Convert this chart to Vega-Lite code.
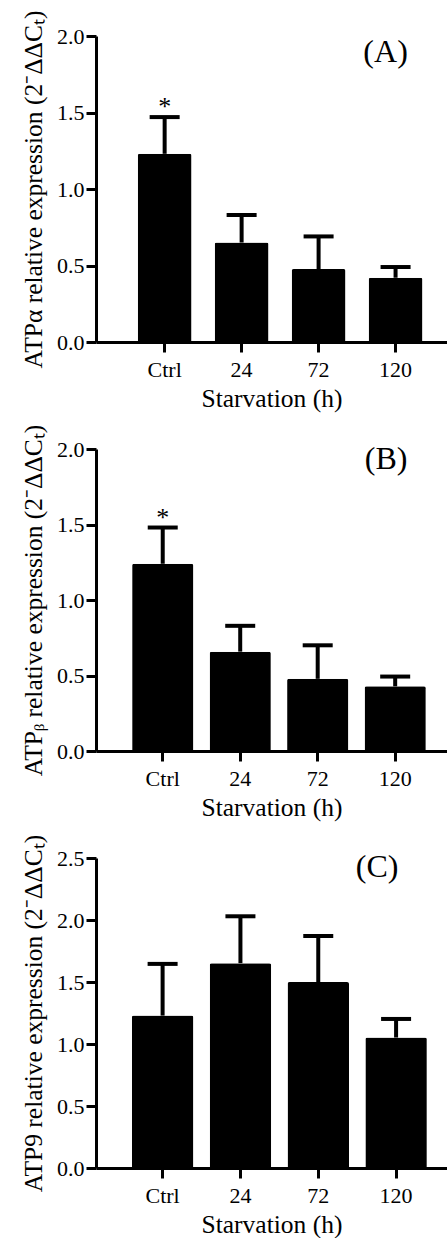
{
  "$schema": "https://vega.github.io/schema/vega-lite/v6.json",
  "padding": {"left": 21, "top": 10, "right": 0, "bottom": 0},
  "background": "white",
  "spacing": 107,
  "bounds": "flush",
  "datasets": {
    "expr": [
      {"panel": "A", "time": "Ctrl", "mean": 1.23, "upper": 1.47, "sig": "*"},
      {"panel": "A", "time": "24", "mean": 0.65, "upper": 0.83},
      {"panel": "A", "time": "72", "mean": 0.477, "upper": 0.69},
      {"panel": "A", "time": "120", "mean": 0.42, "upper": 0.49},
      {"panel": "B", "time": "Ctrl", "mean": 1.24, "upper": 1.48, "sig": "*"},
      {"panel": "B", "time": "24", "mean": 0.658, "upper": 0.829},
      {"panel": "B", "time": "72", "mean": 0.478, "upper": 0.7},
      {"panel": "B", "time": "120", "mean": 0.428, "upper": 0.493},
      {"panel": "C", "time": "Ctrl", "mean": 1.229, "upper": 1.646},
      {"panel": "C", "time": "24", "mean": 1.652, "upper": 2.03},
      {"panel": "C", "time": "72", "mean": 1.499, "upper": 1.871},
      {"panel": "C", "time": "120", "mean": 1.052, "upper": 1.202}
    ]
  },
  "vconcat": [
    {
      "width": 351,
      "height": 306,
      "data": {"name": "expr"},
      "transform": [{"filter": "datum.panel === 'A'"}],
      "encoding": {
        "x": {
          "field": "time", "type": "nominal", "sort": ["Ctrl", "24", "72", "120"],
          "scale": {"paddingInner": 0.3, "paddingOuter": 0.43, "align": 0.63},
          "axis": {"title": "Starvation (h)", "labelAngle": 0}
        }
      },
      "layer": [
        {
          "mark": {"type": "bar", "color": "black", "cornerRadiusTopLeft": 2, "cornerRadiusTopRight": 2},
          "encoding": {
            "y": {"field": "mean", "type": "quantitative", "scale": {"domain": [0, 2], "nice": false},
              "title": "ATPα relative expression (2⁻ΔΔCₜ)",
              "axis": {"values": [0, 0.5, 1, 1.5, 2], "format": ".1f"}}
          }
        },
        {
          "mark": {"type": "rule", "color": "black", "strokeWidth": 4},
          "encoding": {
            "y": {"field": "mean", "type": "quantitative", "title": "ATPα relative expression (2⁻ΔΔCₜ)"},
            "y2": {"field": "upper"}
          }
        },
        {
          "mark": {"type": "tick", "color": "black", "thickness": 4, "size": 30, "orient": "horizontal", "opacity": 1},
          "encoding": {"y": {"field": "upper", "type": "quantitative", "title": "ATPα relative expression (2⁻ΔΔCₜ)"}}
        },
        {
          "transform": [{"filter": "datum.sig"}],
          "mark": {"type": "text", "fontSize": 26, "baseline": "alphabetic", "dy": -2, "color": "black"},
          "encoding": {
            "y": {"field": "upper", "type": "quantitative", "title": "ATPα relative expression (2⁻ΔΔCₜ)"},
            "text": {"field": "sig"}
          }
        },
        {
          "data": {"values": [{"label": "(A)"}]},
          "mark": {"type": "text", "fontSize": 32, "dx": -10, "baseline": "middle", "color": "black"},
          "encoding": {"x": {"datum": "120"}, "y": {"datum": 1.894}, "text": {"field": "label"}}
        }
      ]
    },
    {
      "width": 351,
      "height": 302,
      "data": {"name": "expr"},
      "transform": [{"filter": "datum.panel === 'B'"}],
      "encoding": {
        "x": {
          "field": "time", "type": "nominal", "sort": ["Ctrl", "24", "72", "120"],
          "scale": {"paddingInner": 0.21, "paddingOuter": 0.37, "align": 0.63},
          "axis": {"title": "Starvation (h)", "labelAngle": 0}
        }
      },
      "layer": [
        {
          "mark": {"type": "bar", "color": "black", "cornerRadiusTopLeft": 2, "cornerRadiusTopRight": 2},
          "encoding": {
            "y": {"field": "mean", "type": "quantitative", "scale": {"domain": [0, 2], "nice": false},
              "title": "ATPᵦ relative expression (2⁻ΔΔCₜ)",
              "axis": {"values": [0, 0.5, 1, 1.5, 2], "format": ".1f"}}
          }
        },
        {
          "mark": {"type": "rule", "color": "black", "strokeWidth": 4},
          "encoding": {
            "y": {"field": "mean", "type": "quantitative", "title": "ATPᵦ relative expression (2⁻ΔΔCₜ)"},
            "y2": {"field": "upper"}
          }
        },
        {
          "mark": {"type": "tick", "color": "black", "thickness": 4, "size": 30, "orient": "horizontal", "opacity": 1},
          "encoding": {"y": {"field": "upper", "type": "quantitative", "title": "ATPᵦ relative expression (2⁻ΔΔCₜ)"}}
        },
        {
          "transform": [{"filter": "datum.sig"}],
          "mark": {"type": "text", "fontSize": 26, "baseline": "alphabetic", "dy": -2, "color": "black"},
          "encoding": {
            "y": {"field": "upper", "type": "quantitative", "title": "ATPᵦ relative expression (2⁻ΔΔCₜ)"},
            "text": {"field": "sig"}
          }
        },
        {
          "data": {"values": [{"label": "(B)"}]},
          "mark": {"type": "text", "fontSize": 32, "dx": -9, "baseline": "middle", "color": "black"},
          "encoding": {"x": {"datum": "120"}, "y": {"datum": 1.936}, "text": {"field": "label"}}
        }
      ]
    },
    {
      "width": 351,
      "height": 310,
      "data": {"name": "expr"},
      "transform": [{"filter": "datum.panel === 'C'"}],
      "encoding": {
        "x": {
          "field": "time", "type": "nominal", "sort": ["Ctrl", "24", "72", "120"],
          "scale": {"paddingInner": 0.21, "paddingOuter": 0.36, "align": 0.64},
          "axis": {"title": "Starvation (h)", "labelAngle": 0}
        }
      },
      "layer": [
        {
          "mark": {"type": "bar", "color": "black", "cornerRadiusTopLeft": 2, "cornerRadiusTopRight": 2},
          "encoding": {
            "y": {"field": "mean", "type": "quantitative", "scale": {"domain": [0, 2.5], "nice": false},
              "title": "ATP9 relative expression (2⁻ΔΔCₜ)",
              "axis": {"values": [0, 0.5, 1, 1.5, 2, 2.5], "format": ".1f"}}
          }
        },
        {
          "mark": {"type": "rule", "color": "black", "strokeWidth": 4},
          "encoding": {
            "y": {"field": "mean", "type": "quantitative", "title": "ATP9 relative expression (2⁻ΔΔCₜ)"},
            "y2": {"field": "upper"}
          }
        },
        {
          "mark": {"type": "tick", "color": "black", "thickness": 4, "size": 30, "orient": "horizontal", "opacity": 1},
          "encoding": {"y": {"field": "upper", "type": "quantitative", "title": "ATP9 relative expression (2⁻ΔΔCₜ)"}}
        },
        {
          "data": {"values": [{"label": "(C)"}]},
          "mark": {"type": "text", "fontSize": 32, "dx": -19, "baseline": "middle", "color": "black"},
          "encoding": {"x": {"datum": "120"}, "y": {"datum": 2.43}, "text": {"field": "label"}}
        }
      ]
    }
  ],
  "config": {
    "font": "Liberation Serif",
    "view": {"stroke": null},
    "axis": {
      "domainColor": "black", "domainWidth": 3, "tickColor": "black", "tickWidth": 3, "tickSize": 10,
      "labelFont": "Liberation Serif", "labelFontSize": 22, "labelColor": "black",
      "titleFont": "Liberation Serif", "titleFontSize": 25.5, "titleFontWeight": "normal", "titleColor": "black",
      "grid": false
    },
    "axisY": {"titlePadding": 10, "labelPadding": 2},
    "axisX": {"titlePadding": 6, "labelPadding": 7},
    "text": {"font": "Liberation Serif", "color": "black"}
  }
}
